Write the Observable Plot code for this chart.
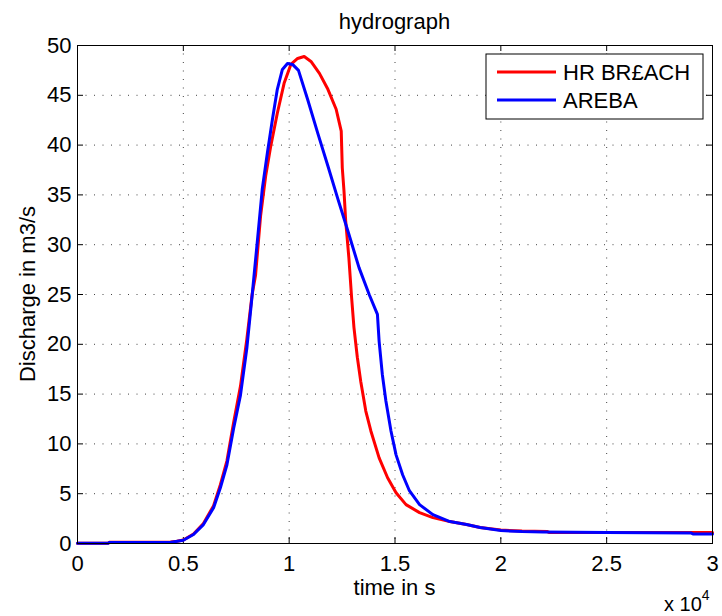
<!DOCTYPE html>
<html>
<head>
<meta charset="utf-8">
<script src="https://cdn.jsdelivr.net/npm/d3@7"></script>
<script src="https://cdn.jsdelivr.net/npm/@observablehq/plot@0.6"></script>
<style>
  html, body { margin: 0; padding: 0; background: #fff; }
  #chart { width: 722px; height: 616px; }
</style>
</head>
<body>
<div id="chart"></div>
<script>
// ---- Data (time in s, discharge in m3/s) ----
const breachTime = [0, 1450, 1500, 4000, 4400, 4700, 5000, 5480, 5950, 6430, 6750, 7060, 7380, 7700, 8000, 8250, 8410, 8650, 8890, 9130, 9440, 9760, 10080, 10400, 10710, 11030, 11430, 11830, 12220, 12350, 12460, 12510, 12590, 12670, 12820, 12950, 13060, 13220, 13380, 13620, 13860, 14250, 14650, 15050, 15520, 16160, 16790, 17590, 18380, 19020, 20000, 21000, 22200, 22300, 25000, 29000, 30000];
const breachQ    = [0.03, 0.03, 0.12, 0.12, 0.15, 0.22, 0.35, 0.95, 2.0, 3.8, 5.9, 8.3, 12.2, 15.8, 20.5, 25.0, 26.9, 32.9, 36.9, 39.9, 43.2, 46.2, 48.1, 48.7, 48.9, 48.4, 47.2, 45.6, 43.6, 42.4, 41.4, 37.7, 35.4, 32.4, 28.7, 24.7, 21.7, 18.7, 16.3, 13.3, 11.3, 8.6, 6.6, 5.1, 3.9, 3.1, 2.6, 2.2, 1.9, 1.6, 1.35, 1.25, 1.2, 1.1, 1.1, 1.1, 1.1];

const arebaTime = [0, 1450, 1500, 4370, 5000, 5480, 5950, 6430, 6750, 7060, 7380, 7700, 8000, 8250, 8490, 8730, 8970, 9210, 9440, 9680, 9920, 10160, 10440, 10870, 11350, 11830, 12300, 12800, 13300, 13780, 14170, 14250, 14400, 14570, 14810, 15050, 15360, 15680, 16160, 16790, 17590, 18380, 19020, 20000, 21000, 22000, 25000, 29000, 29100, 30000];
const arebaQ    = [0.03, 0.03, 0.1, 0.1, 0.33, 0.9, 1.9, 3.6, 5.6, 7.9, 11.6, 14.9, 19.6, 24.9, 30.2, 35.6, 39.2, 42.6, 45.6, 47.6, 48.2, 48.1, 47.5, 44.6, 41.2, 37.9, 34.6, 31.2, 27.7, 25.0, 23.0, 20.3, 17.0, 14.3, 11.3, 8.9, 6.9, 5.3, 3.9, 2.9, 2.2, 1.9, 1.6, 1.3, 1.2, 1.15, 1.1, 1.05, 0.95, 0.95];

const seriesNames = ["HR BR£ACH", "AREBA"];
const seriesColors = ["#ff0000", "#0000ff"];

const xTicks = [0, 5000, 10000, 15000, 20000, 25000, 30000];
const yTicks = [0, 5, 10, 15, 20, 25, 30, 35, 40, 45, 50];

const titleText = "hydrograph";
const xLabel = "time in s";
const yLabel = "Discharge in m3/s";

// ---- Build ----
const breach = breachTime.map((t, i) => ({t, q: breachQ[i]}));
const areba = arebaTime.map((t, i) => ({t, q: arebaQ[i]}));

const W = 722, H = 616;
const mL = 77, mR = 10, mT = 45, mB = 73;
const frameW = W - mL - mR, frameH = H - mT - mB;
const tick = 6;
const font = "'Liberation Sans', Arial, Helvetica, sans-serif";
const fs = 22;

const chart = Plot.plot({
  width: W,
  height: H,
  marginLeft: mL,
  marginRight: mR,
  marginTop: mT,
  marginBottom: mB,
  style: {fontFamily: font, fontSize: fs + "px", color: "black", background: "white", overflow: "visible"},
  x: {domain: [0, 30000], ticks: xTicks, tickSize: 0, tickPadding: 12, tickFormat: d => String(d / 10000), label: null},
  y: {domain: [0, 50], ticks: yTicks, tickSize: 0, tickPadding: 6, label: null},
  marks: [
    // dotted grid
    Plot.ruleX(xTicks.slice(1, -1), {stroke: "#444", strokeDasharray: "1,7.5", strokeWidth: 1}),
    Plot.ruleY(yTicks.slice(1, -1), {stroke: "#444", strokeDasharray: "1,7.5", strokeWidth: 1}),
    // inward tick marks on all four sides
    Plot.ruleX(xTicks, {stroke: "black", insetTop: frameH - tick}),
    Plot.ruleX(xTicks, {stroke: "black", insetBottom: frameH - tick}),
    Plot.ruleY(yTicks, {stroke: "black", insetRight: frameW - tick}),
    Plot.ruleY(yTicks, {stroke: "black", insetLeft: frameW - tick}),
    // curves
    Plot.line(breach, {x: "t", y: "q", stroke: seriesColors[0], strokeWidth: 3, strokeLinejoin: "round"}),
    Plot.line(areba, {x: "t", y: "q", stroke: seriesColors[1], strokeWidth: 3, strokeLinejoin: "round"}),
    Plot.frame({stroke: "black", strokeWidth: 1})
  ]
});

const svg = d3.select(chart);
const cx = mL + frameW / 2;

svg.append("text").attr("x", cx).attr("y", 29).attr("text-anchor", "middle")
  .attr("font-family", font).attr("font-size", fs).text(titleText);
svg.append("text").attr("x", cx).attr("y", 595).attr("text-anchor", "middle")
  .attr("font-family", font).attr("font-size", fs).text(xLabel);
svg.append("text").attr("transform", `translate(35,${mT + frameH / 2}) rotate(-90)`)
  .attr("text-anchor", "middle").attr("font-family", font).attr("font-size", fs).text(yLabel);
const mult = svg.append("text").attr("x", 664).attr("y", 611).attr("text-anchor", "start")
  .attr("font-family", font).attr("font-size", 20);
mult.append("tspan").text("x 10");
mult.append("tspan").attr("font-size", 14).attr("dy", -11).text("4");

// legend
const lg = svg.append("g");
lg.append("rect").attr("x", 486).attr("y", 54).attr("width", 217).attr("height", 65)
  .attr("fill", "white").attr("stroke", "black").attr("stroke-width", 1);
seriesNames.forEach((name, i) => {
  const y = 72 + i * 28;
  lg.append("line").attr("x1", 497).attr("x2", 556).attr("y1", y).attr("y2", y)
    .attr("stroke", seriesColors[i]).attr("stroke-width", 3);
  lg.append("text").attr("x", 563).attr("y", y + 7.5).attr("text-anchor", "start")
    .attr("font-family", font).attr("font-size", fs).text(name);
});

document.getElementById("chart").appendChild(chart);
</script>
</body>
</html>
